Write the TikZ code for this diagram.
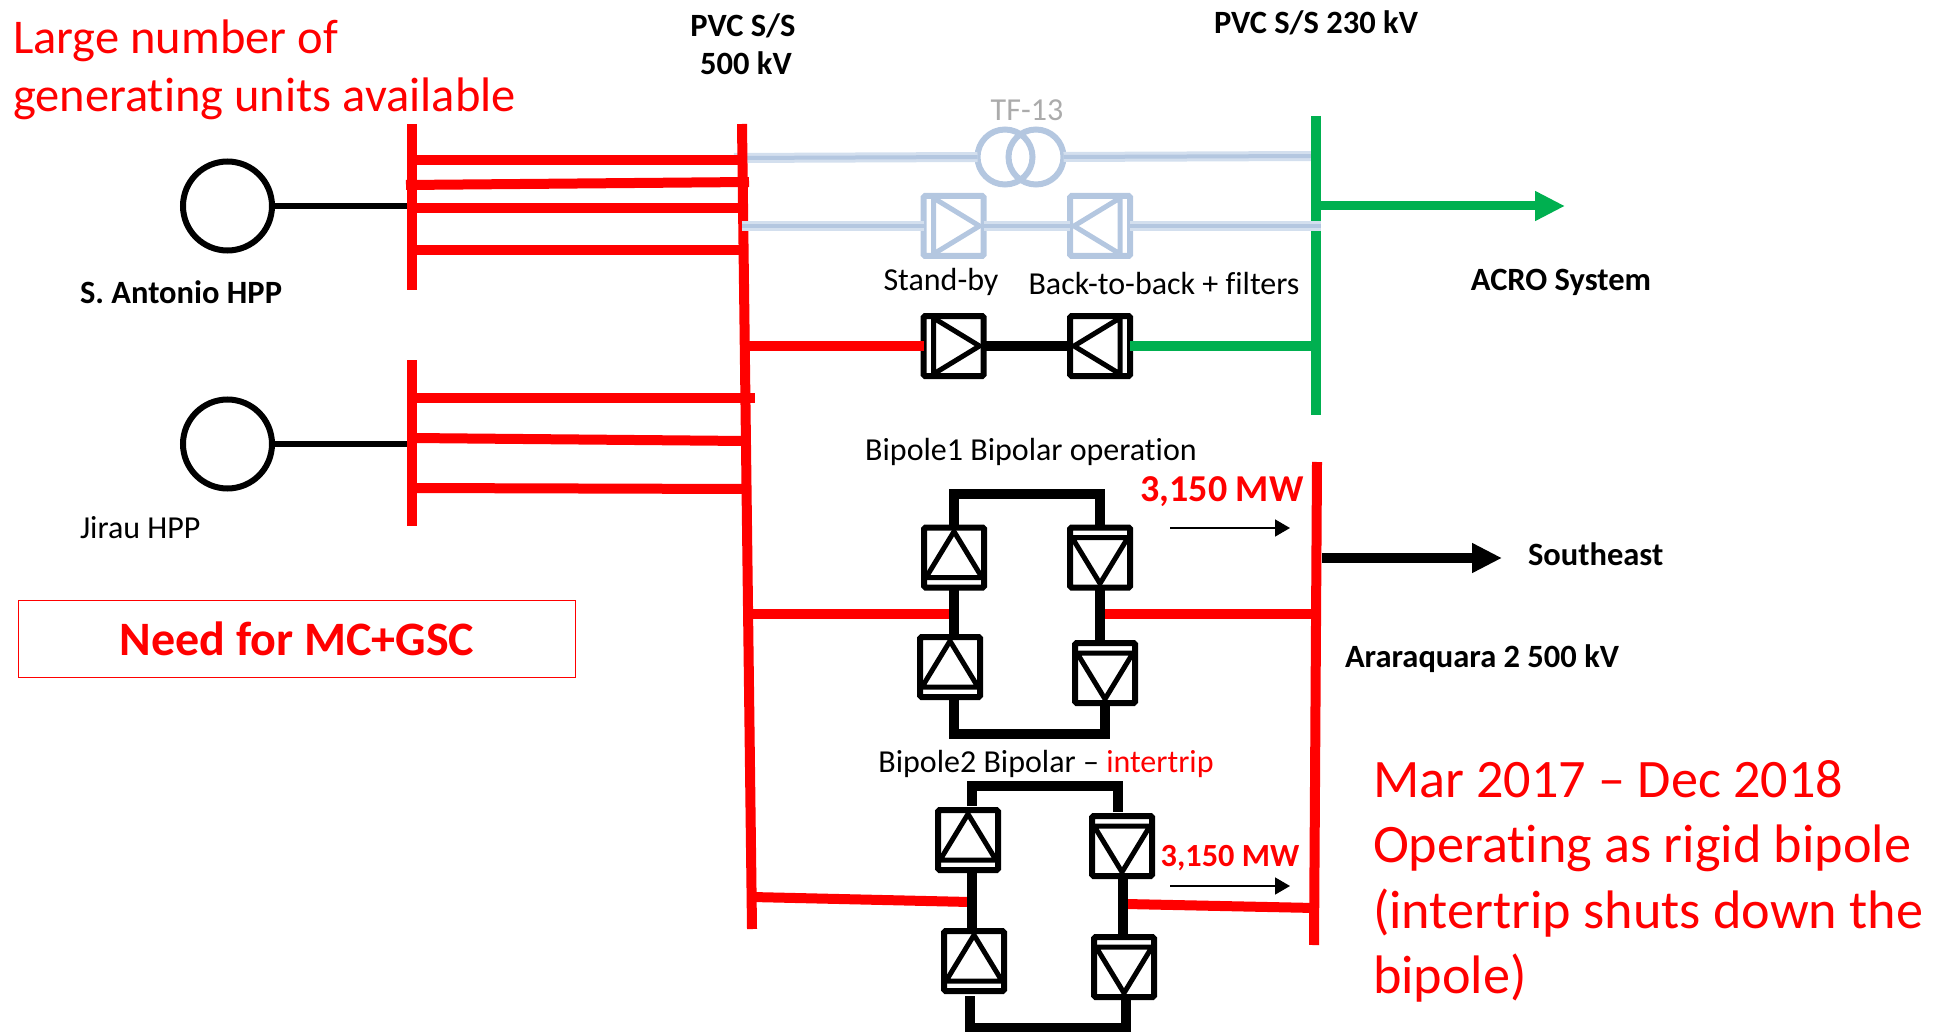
\documentclass[tikz,border=0pt]{standalone}
\usepackage{fontspec}
\setmainfont[Ligatures=NoCommon]{Carlito}
\usetikzlibrary{arrows.meta}

\definecolor{busred}{HTML}{FF0000}
\definecolor{busgreen}{HTML}{00B050}
\definecolor{tfblue}{HTML}{B4C7E0}
\definecolor{tfpale}{HTML}{D3DFEE}
\definecolor{tfgray}{HTML}{ABABAB}

\tikzset{
  redbus/.style={draw=busred, line width=10pt},
  greenlink/.style={draw=busgreen, line width=10pt},
  blklink/.style={draw=black, line width=10pt},
  genline/.style={draw=black, line width=6pt},
  tflink/.style={draw=tfpale, line width=10pt, postaction={draw=tfblue, line width=4pt}},
  gen/.style={circle, draw, line width=6pt, minimum size=89pt, inner sep=0pt, outer sep=0pt},
  tfcoil/.style={circle, draw=tfblue, line width=6pt, minimum size=55pt, inner sep=0pt, outer sep=0pt},
  convbox/.style={draw=black, line width=6pt, rounded corners=1.5pt, minimum width=60pt, minimum height=60pt, inner sep=0pt, outer sep=0pt},
  convtri/.style={draw=black, line width=5pt, line join=miter},
  flowarrow/.style={draw=black, line width=1.5pt, -{Triangle[length=15pt,width=17pt]}},
  lbl/.style={font=\fontsize{32}{38}\selectfont, inner sep=0pt, outer sep=0pt},
  lblbold/.style={font=\fontsize{32.5}{38}\selectfont\bfseries, inner sep=0pt, outer sep=0pt},
  redbig/.style={text=busred, inner sep=0pt, outer sep=0pt, align=left, anchor=north west}
}

% box name, centre, direction
\newcommand{\valve}[3]{
  \node[convbox] (#1) at (#2) {};
  \begin{scope}[shift={(#2)}, rotate=#3]
    \draw[convtri] (-20,-28) -- (26,0) -- (-20,28) -- cycle;
  \end{scope}
}

\begin{document}
\begin{tikzpicture}[x=1pt, y=-1pt]
  \useasboundingbox (0,0) rectangle (1937,1032);

  % Generators
  \node[gen] (santonio) at (227.5,206) {};
  \node[gen] (jirau) at (227.5,444) {};
  \coordinate (sabus) at (412,206);
  \coordinate (jibus) at (412,444);
  \draw[genline] (santonio) -- (sabus);
  \draw[genline] (jirau) -- (jibus);

  % Stand-by branch, upper line
  \node[tfcoil] (tfa) at (1005,157) {};
  \node[tfcoil] (tfb) at (1036,157) {};
  \coordinate (tfin) at (734,158);
  \coordinate (tfout) at (1311,156);
  \draw[tflink] (tfin) -- (tfa.west);
  \draw[tflink] (tfb.east) -- (tfout);

  % Buses
  \coordinate (pvctop) at (742,124);
  \coordinate (pvcbot) at (752,929);
  \coordinate (aratop) at (1317,462);
  \coordinate (arabot) at (1314,945);
  \coordinate (sat) at (412,124);
  \coordinate (sab) at (412,290);
  \coordinate (jit) at (412,360);
  \coordinate (jib) at (412,526);
  \draw[redbus] (sat) -- (sab);
  \draw[redbus] (jit) -- (jib);

  % Lines between the plants and the 500 kV bus
  \foreach \n/\xa/\ya/\xb/\yb in {a/412/160/742/160, b/406/185/749/182, c/412/208/744/208, d/412/250/745/250,
      e/412/398/755/398, f/412/438/746/441, g/412/488/747/489}{
    \coordinate (ts\n) at (\xa,\ya);
    \coordinate (te\n) at (\xb,\yb);
    \draw[redbus] (ts\n) -- (te\n);
  }
  \draw[redbus] (pvctop) -- (pvcbot);
  \draw[redbus] (aratop) -- (arabot);

  % 230 kV bus
  \coordinate (grtop) at (1316,116);
  \coordinate (grbot) at (1316,415);
  \coordinate (acro) at (1565,206);
  \coordinate (grarrow) at (1316,206);
  \draw[greenlink] (grtop) -- (grbot);
  \draw[greenlink, line width=9pt, -{Triangle[length=30pt,width=28pt]}] (grarrow) -- (acro);

  % Stand-by back-to-back
  \begin{scope}[convbox/.append style={draw=tfblue}, convtri/.append style={draw=tfblue}]
    \valve{sbl}{953.5,226}{0}
    \valve{sbr}{1100,226}{180}
  \end{scope}
  \coordinate (sbin) at (742,226);
  \coordinate (sbout) at (1321,226);
  \draw[tflink] (sbin) -- (sbl.west);
  \draw[tflink] (sbl.east) -- (sbr.west);
  \draw[tflink] (sbr.east) -- (sbout);

  % Back-to-back in service
  \valve{btl}{953.5,346}{0}
  \valve{btr}{1100,346}{180}
  \coordinate (btin) at (747,346);
  \coordinate (btout) at (1312,346);
  \draw[redbus] (btin) -- (btl.west);
  \draw[blklink] (btl.east) -- (btr.west);
  \draw[greenlink] (btr.east) -- (btout);

  % Bipole 1
  \valve{batl}{954,557.5}{90}
  \valve{babl}{950,667}{90}
  \valve{batr}{1100,557.5}{-90}
  \valve{babr}{1105,673}{-90}
  \coordinate (batop) at (1027,494);
  \coordinate (babot) at (1027,734);
  \coordinate (bain) at (748,614);
  \coordinate (baout) at (1316,614);
  \coordinate (bamidl) at (954,614);
  \coordinate (bamidr) at (1100,614);
  \draw[redbus] (bain) -- (bamidl);
  \draw[redbus] (bamidr) -- (baout);
  \draw[blklink] (batl.north) |- (batop) -| (batr.north);
  \draw[blklink] (batl.south) -- (batl.south |- babl.north);
  \draw[blklink] (batr.south) -- (batr.south |- babr.north);
  \draw[blklink] (batl.south |- babl.south) |- (babot) -| (babr.south);

  % Bipole 2
  \valve{bbtl}{968,840}{90}
  \valve{bbbl}{974,961}{90}
  \valve{bbtr}{1122,846}{-90}
  \valve{bbbr}{1124,967}{-90}
  \coordinate (bbtop) at (1045,786);
  \coordinate (bbbot) at (1045,1028);
  \coordinate (bbin) at (752,897);
  \coordinate (bbmidl) at (970,902);
  \coordinate (bbmidr) at (1126,904);
  \coordinate (bbout) at (1315,908);
  \draw[redbus] (bbin) -- (bbmidl);
  \draw[redbus] (bbmidr) -- (bbout);
  \draw[blklink] (972,806) |- (bbtop) -| (1118,812);
  \draw[blklink] (972,871) -- (972,928);
  \draw[blklink] (1123,877) -- (1123,938);
  \draw[blklink] (970,996) |- (bbbot) -| (1126,1000);

  % Arrows
  \coordinate (sebus) at (1322,558);
  \coordinate (seend) at (1502,558);
  \draw[blklink, -{Triangle[length=30pt,width=28pt]}] (sebus) -- (seend);
  \coordinate (faa) at (1170,528);
  \coordinate (fab) at (1290,528);
  \coordinate (fba) at (1170,886);
  \coordinate (fbb) at (1290,886);
  \draw[flowarrow] (faa) -- (fab);
  \draw[flowarrow] (fba) -- (fbb);

  % Labels
  \node[redbig, font=\fontsize{48.5}{58}\selectfont] (units) at (13,20) {Large number of\\generating units available};
  \node[lblbold, align=center] (pvc500) at (743,44.5) {PVC S/S\\\hspace*{6pt}500 kV};
  \node[lblbold] (pvc230) at (1316,23) {PVC S/S 230 kV};
  \node[lbl, text=tfgray] (tf13) at (1027,110) {TF-13};
  \node[lbl] (standby) at (941,282) {Stand-by};
  \node[lbl] (b2b) at (1164,284) {Back-to-back + filters};
  \node[lblbold] (acrolbl) at (1561,282) {ACRO System};
  \node[lblbold, anchor=west] (salbl) at (80,292) {S. Antonio HPP};
  \node[lbl, anchor=west] (jilbl) at (80,528) {Jirau HPP};
  \node[draw=busred, line width=1.5pt, text=busred, minimum width=557pt, minimum height=77pt, inner sep=0pt,
      font=\fontsize{48}{54}\selectfont\bfseries] (need) at (297,639) {Need for MC+GSC};
  \node[lbl] (bp1) at (1031,452) {Bipole1 Bipolar operation};
  \node[lbl] (bp2) at (1046,764) {Bipole2 Bipolar -- \textcolor{busred}{intertrip}};
  \node[text=busred, font=\fontsize{38}{44}\selectfont\bfseries, inner sep=0pt] (mwa) at (1222,492) {3,150 MW};
  \node[text=busred, font=\fontsize{32.3}{38}\selectfont\bfseries, inner sep=0pt] (mwb) at (1230,858) {3,150 MW};
  \node[lblbold, anchor=west] (selbl) at (1528,554) {Southeast};
  \node[lblbold, anchor=west] (aralbl) at (1345,659) {Araraquara 2 500 kV};
  \node[redbig, font=\fontsize{54.2}{65.5}\selectfont] (ops) at (1373,760) {Mar 2017 -- Dec 2018\\Operating as rigid bipole\\(intertrip shuts down the\\bipole)};
\end{tikzpicture}
\end{document}
